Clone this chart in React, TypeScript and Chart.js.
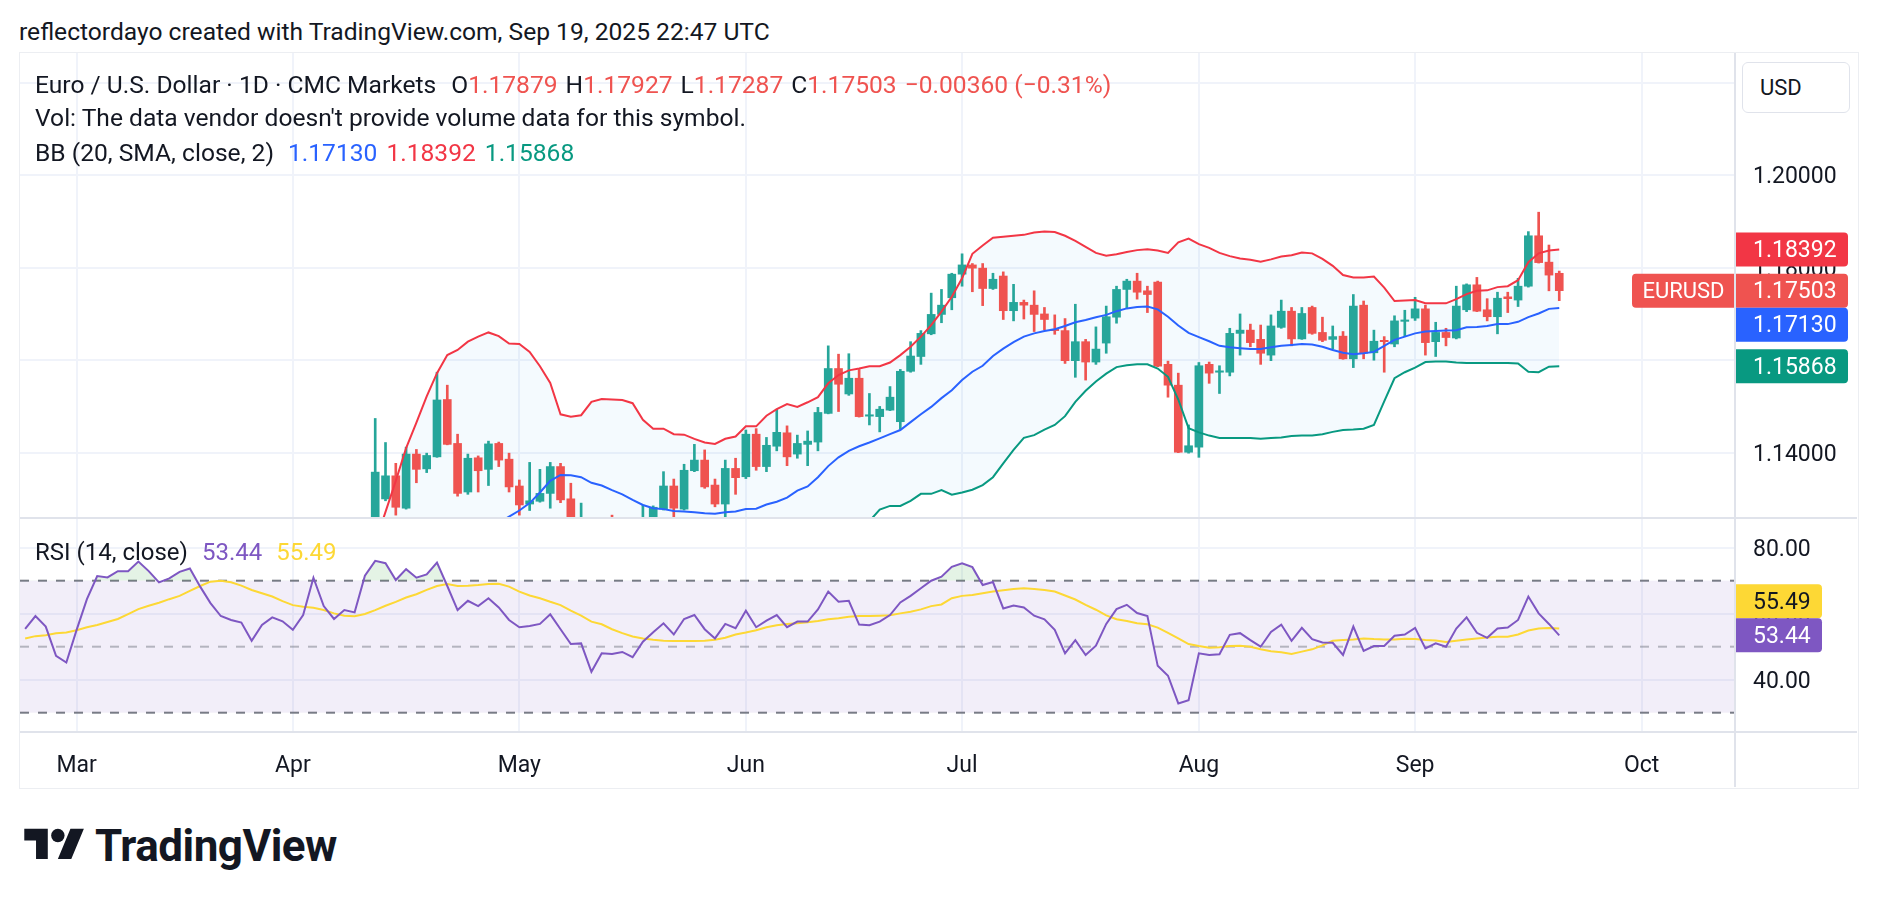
import React, { useEffect, useRef } from 'react';
import { Chart, registerables } from 'chart.js';

Chart.register(...registerables);

const FONT = 'Roboto, "Noto Sans", "DejaVu Sans", sans-serif';
const TEXT = '#131722';
const GRID = '#f0f3fa';
const SEP = '#e0e3eb';
const UP = '#26a69a';
const DOWN = '#ef5350';

// ---------- time axis (trading days) ----------
const START_DATE = Date.UTC(2025, 1, 24);
const SLOT_COUNT = 167;
const MONTH_NAMES = ['Jan', 'Feb', 'Mar', 'Apr', 'May', 'Jun', 'Jul', 'Aug', 'Sep', 'Oct', 'Nov', 'Dec'];
function tradingDays(): Date[] {
  const out: Date[] = [];
  let t = START_DATE;
  while (out.length < SLOT_COUNT) {
    const d = new Date(t);
    const wd = d.getUTCDay();
    if (wd !== 0 && wd !== 6) out.push(d);
    t += 86400000;
  }
  return out;
}
const DATES = tradingDays();
const MONTH_TICKS = DATES.map((d, i) => (i > 0 && d.getUTCMonth() !== DATES[i - 1].getUTCMonth() ? i : -1)).filter((i) => i >= 0);

const X_MIN = -0.5;
const X_MAX = 166.07;
const PRICE_MIN = 1.12588;
const PRICE_MAX = 1.22642;
const PRICE_TICKS = [1.14, 1.16, 1.18, 1.2, 1.22];
const RSI_MIN = 24.15;
const RSI_MAX = 89.0;
const RSI_TICKS = [40, 60, 80];

// ---------- candles (first candle index = Apr 11) ----------
const CANDLE_START = 34;
const OPEN = [
  1.1222, 1.1300, 1.1350, 1.1280, 1.1397, 1.1365, 1.1391, 1.1515, 1.1420, 1.1315,
  1.1389, 1.1364, 1.1420, 1.1386, 1.1328, 1.1289, 1.1295, 1.1312, 1.1370, 1.1300,
  1.1090, 1.1185, 1.1175, 1.1240, 1.1170, 1.1230, 1.1240, 1.1245, 1.1278, 1.1328,
  1.1278, 1.1361, 1.1384, 1.1330, 1.1289, 1.1366, 1.1348, 1.1440, 1.1370, 1.1414,
  1.1443, 1.1397, 1.1418, 1.1423, 1.1485, 1.1582, 1.1527, 1.1561, 1.1479, 1.1478,
  1.1492, 1.1467, 1.1576, 1.1608, 1.1657, 1.1699, 1.1735, 1.1786, 1.1806, 1.1799,
  1.1755, 1.1782, 1.1707, 1.1725, 1.1719, 1.1700, 1.1667, 1.1664, 1.1599, 1.1640,
  1.1596, 1.1637, 1.1693, 1.1753, 1.1771, 1.1750, 1.1769, 1.1591, 1.1546, 1.1401,
  1.1412, 1.1591, 1.1574, 1.1574, 1.1658, 1.1665, 1.1645, 1.1611, 1.1671, 1.1706,
  1.1646, 1.1714, 1.1660, 1.1645, 1.1652, 1.1603, 1.1719, 1.1616, 1.1643, 1.1635,
  1.1684, 1.1691, 1.1711, 1.1640, 1.1660, 1.1648, 1.1709, 1.1763, 1.1709, 1.1694,
  1.1737, 1.1730, 1.1760, 1.1869, 1.1812, 1.17879,
];
const HIGH = [
  1.1474, 1.1422, 1.1377, 1.1412, 1.1407, 1.1399, 1.1574, 1.1546, 1.1440, 1.1397,
  1.1393, 1.1425, 1.1423, 1.1399, 1.1341, 1.1379, 1.1364, 1.1379, 1.1377, 1.1334,
  1.1291, 1.1230, 1.1200, 1.1265, 1.1240, 1.1250, 1.1287, 1.1285, 1.1359, 1.1343,
  1.1375, 1.1418, 1.1406, 1.1343, 1.1384, 1.1388, 1.1449, 1.1452, 1.1433, 1.1494,
  1.1458, 1.1438, 1.1447, 1.1498, 1.1631, 1.1613, 1.1614, 1.1580, 1.1528, 1.1500,
  1.1543, 1.1580, 1.1640, 1.1664, 1.1745, 1.1753, 1.1788, 1.1830, 1.1809, 1.1809,
  1.1788, 1.1791, 1.1764, 1.1730, 1.1750, 1.1714, 1.1698, 1.1690, 1.1721, 1.1645,
  1.1672, 1.1717, 1.1760, 1.1775, 1.1788, 1.1760, 1.1771, 1.1598, 1.1572, 1.1460,
  1.1595, 1.1596, 1.1588, 1.1669, 1.1700, 1.1678, 1.1676, 1.1698, 1.1730, 1.1714,
  1.1714, 1.1717, 1.1693, 1.1674, 1.1662, 1.1742, 1.1728, 1.1665, 1.1651, 1.1696,
  1.1708, 1.1736, 1.1719, 1.1682, 1.1669, 1.1760, 1.1765, 1.1779, 1.1733, 1.1747,
  1.1747, 1.1777, 1.1878, 1.1920, 1.1849, 1.17927,
];
const LOW = [
  1.1200, 1.1296, 1.1265, 1.1278, 1.1335, 1.1357, 1.1390, 1.1417, 1.1306, 1.1310,
  1.1315, 1.1329, 1.1370, 1.1315, 1.1265, 1.1275, 1.1293, 1.1280, 1.1292, 1.1065,
  1.1070, 1.1160, 1.1130, 1.1150, 1.1150, 1.1200, 1.1225, 1.1230, 1.1276, 1.1255,
  1.1276, 1.1359, 1.1323, 1.1283, 1.1260, 1.1310, 1.1344, 1.1362, 1.1359, 1.1404,
  1.1372, 1.1388, 1.1372, 1.1404, 1.1484, 1.1489, 1.1524, 1.1477, 1.1460, 1.1445,
  1.1491, 1.1451, 1.1574, 1.1591, 1.1655, 1.1681, 1.1709, 1.1760, 1.1748, 1.1718,
  1.1753, 1.1688, 1.1685, 1.1689, 1.1662, 1.1666, 1.1656, 1.1593, 1.1563, 1.1557,
  1.1591, 1.1615, 1.1680, 1.1712, 1.1732, 1.1703, 1.1586, 1.1520, 1.1400, 1.1399,
  1.1390, 1.1550, 1.1528, 1.1566, 1.1611, 1.1629, 1.1591, 1.1599, 1.1669, 1.1631,
  1.1645, 1.1656, 1.1640, 1.1624, 1.1602, 1.1584, 1.1603, 1.1600, 1.1574, 1.1629,
  1.1652, 1.1686, 1.1611, 1.1608, 1.1631, 1.1646, 1.1705, 1.1705, 1.1685, 1.1657,
  1.1703, 1.1716, 1.1758, 1.1810, 1.1750, 1.17287,
];
const CLOSE = [
  1.1358, 1.1350, 1.1282, 1.1397, 1.1364, 1.1394, 1.1514, 1.1418, 1.1312, 1.1388,
  1.1361, 1.1419, 1.1384, 1.1326, 1.1287, 1.1296, 1.1312, 1.1370, 1.1298, 1.1090,
  1.1185, 1.1175, 1.1185, 1.1170, 1.1230, 1.1240, 1.1250, 1.1282, 1.1328, 1.1280,
  1.1362, 1.1384, 1.1326, 1.1289, 1.1366, 1.1346, 1.1440, 1.1370, 1.1416, 1.1444,
  1.1391, 1.1420, 1.1425, 1.1487, 1.1582, 1.1548, 1.1561, 1.1478, 1.1482, 1.1494,
  1.1520, 1.1576, 1.1609, 1.1658, 1.1699, 1.1719, 1.1786, 1.1806, 1.1799, 1.1755,
  1.1775, 1.1707, 1.1725, 1.1719, 1.1699, 1.1688, 1.1664, 1.1599, 1.1640, 1.1596,
  1.1624, 1.1694, 1.1753, 1.1771, 1.1747, 1.1742, 1.1587, 1.1546, 1.1401, 1.1415,
  1.1588, 1.1572, 1.1577, 1.1658, 1.1665, 1.1638, 1.1615, 1.1674, 1.1706, 1.1646,
  1.1701, 1.1658, 1.1643, 1.1651, 1.1603, 1.1717, 1.1615, 1.1641, 1.1640, 1.1685,
  1.1687, 1.1711, 1.1638, 1.1660, 1.1649, 1.1717, 1.1763, 1.1706, 1.1694, 1.1734,
  1.1733, 1.1760, 1.1869, 1.1811, 1.1784, 1.17503,
];

// ---------- Bollinger Bands (20, SMA, close, 2), first value index = 32 ----------
const BB_START = 32;
const BB_UPPER = [
  1.1030, 1.1120, 1.1205, 1.1272, 1.1339, 1.1410, 1.1465, 1.1522, 1.1572, 1.1611,
  1.1622, 1.1640, 1.1651, 1.1660, 1.1652, 1.1636, 1.1635, 1.1618, 1.1587, 1.1551,
  1.1483, 1.1478, 1.1481, 1.1510, 1.1516, 1.1515, 1.1514, 1.1507, 1.1471, 1.1452,
  1.1452, 1.1440, 1.1439, 1.1430, 1.1422, 1.1419, 1.1430, 1.1435, 1.1457, 1.1457,
  1.1480, 1.1494, 1.1505, 1.1499, 1.1509, 1.1520, 1.1550, 1.1568, 1.1578, 1.1582,
  1.1587, 1.1587, 1.1595, 1.1611, 1.1629, 1.1651, 1.1676, 1.1705, 1.1737, 1.1777,
  1.1830, 1.1848, 1.1865, 1.1867, 1.1869, 1.1871, 1.1876, 1.1878, 1.1877, 1.1869,
  1.1858, 1.1845, 1.1832, 1.1826, 1.1829, 1.1834, 1.1838, 1.1840, 1.1837, 1.1832,
  1.1855, 1.1863, 1.1851, 1.1843, 1.1832, 1.1825, 1.1820, 1.1817, 1.1813, 1.1818,
  1.1824, 1.1827, 1.1833, 1.1831, 1.1819, 1.1804, 1.1784, 1.1779, 1.1779, 1.1781,
  1.1757, 1.1728, 1.1729, 1.1730, 1.1723, 1.1723, 1.1723, 1.1732, 1.1743, 1.1750,
  1.1751, 1.1758, 1.1760, 1.1773, 1.1812, 1.1831, 1.1837, 1.18392,
];
const BB_MID = [
  1.0870, 1.0895, 1.0925, 1.0955, 1.0985, 1.1015, 1.1045, 1.1075, 1.1110, 1.1140,
  1.1165, 1.1190, 1.1210, 1.1230, 1.1248, 1.1262, 1.1275, 1.1291, 1.1314, 1.1339,
  1.1352, 1.1351, 1.1347, 1.1335, 1.1329, 1.1319, 1.1310, 1.1298, 1.1287, 1.1280,
  1.1278, 1.1274, 1.1273, 1.1271, 1.1269, 1.1268, 1.1271, 1.1273, 1.1278, 1.1279,
  1.1288, 1.1294, 1.1303, 1.1318, 1.1327, 1.1347, 1.1371, 1.1390, 1.1404, 1.1414,
  1.1422, 1.1431, 1.1440, 1.1449, 1.1466, 1.1483, 1.1499, 1.1518, 1.1535, 1.1557,
  1.1575, 1.1588, 1.1609, 1.1625, 1.1639, 1.1651, 1.1658, 1.1663, 1.1667, 1.1674,
  1.1682, 1.1687, 1.1693, 1.1698, 1.1706, 1.1712, 1.1715, 1.1716, 1.1710, 1.1694,
  1.1675, 1.1659, 1.1650, 1.1641, 1.1631, 1.1628, 1.1626, 1.1624, 1.1624, 1.1628,
  1.1631, 1.1633, 1.1635, 1.1634, 1.1629, 1.1622, 1.1616, 1.1613, 1.1615, 1.1618,
  1.1631, 1.1644, 1.1651, 1.1658, 1.1662, 1.1663, 1.1664, 1.1665, 1.1671, 1.1672,
  1.1674, 1.1678, 1.1678, 1.1683, 1.1693, 1.1701, 1.1711, 1.17130,
];
const BB_LOWER = [
  1.0710, 1.0670, 1.0645, 1.0638, 1.0631, 1.0620, 1.0625, 1.0628, 1.0648, 1.0669,
  1.0708, 1.0740, 1.0769, 1.0800, 1.0844, 1.0888, 1.0915, 1.0964, 1.1041, 1.1127,
  1.1221, 1.1224, 1.1213, 1.1160, 1.1142, 1.1123, 1.1106, 1.1089, 1.1103, 1.1108,
  1.1104, 1.1108, 1.1107, 1.1112, 1.1116, 1.1117, 1.1112, 1.1111, 1.1099, 1.1101,
  1.1096, 1.1094, 1.1101, 1.1137, 1.1145, 1.1174, 1.1192, 1.1212, 1.1230, 1.1246,
  1.1252, 1.1277, 1.1285, 1.1285, 1.1296, 1.1311, 1.1311, 1.1319, 1.1309, 1.1314,
  1.1320, 1.1330, 1.1347, 1.1377, 1.1406, 1.1432, 1.1438, 1.1450, 1.1460, 1.1479,
  1.1510, 1.1534, 1.1554, 1.1571, 1.1585, 1.1589, 1.1591, 1.1591, 1.1582, 1.1564,
  1.1515, 1.1453, 1.1444, 1.1437, 1.1432, 1.1432, 1.1432, 1.1432, 1.1430, 1.1432,
  1.1433, 1.1436, 1.1437, 1.1437, 1.1440, 1.1445, 1.1449, 1.1450, 1.1452, 1.1460,
  1.1511, 1.1561, 1.1574, 1.1584, 1.1596, 1.1597, 1.1597, 1.1595, 1.1594, 1.1594,
  1.1594, 1.1594, 1.1594, 1.1593, 1.1575, 1.1574, 1.1586, 1.15868,
];

// ---------- RSI (14, close) and its MA, index 0 = Feb 24 ----------
const RSI = [
  55.4, 59.3, 56.1, 47.2, 45.2, 55.1, 64.4, 71.4, 71.0, 72.9,
  72.9, 75.8, 72.9, 69.5, 70.7, 72.7, 73.7, 68.2, 63.2, 59.3,
  58.1, 57.3, 51.8, 56.6, 58.9, 57.7, 55.1, 59.6, 70.9, 62.3,
  58.4, 61.1, 60.4, 71.5, 76.0, 75.3, 70.2, 73.5, 70.9, 71.9,
  75.5, 68.4, 61.1, 63.9, 62.3, 64.7, 61.9, 58.1, 55.9, 56.3,
  56.9, 59.8, 55.3, 50.8, 51.0, 42.4, 48.0, 47.8, 48.4, 46.8,
  51.5, 54.4, 57.1, 53.7, 58.4, 59.6, 55.3, 52.5, 56.9, 55.6,
  60.9, 55.9, 57.9, 59.6, 55.9, 57.6, 57.6, 61.3, 66.7, 63.6,
  63.9, 56.7, 56.5, 57.6, 59.6, 63.4, 65.4, 67.7, 70.0, 71.2,
  74.2, 75.3, 74.1, 68.7, 69.6, 61.6, 62.5, 61.9, 59.4, 58.3,
  55.1, 48.0, 52.0, 47.5, 50.3, 56.9, 61.4, 62.7, 60.2, 59.3,
  44.2, 41.2, 32.8, 33.8, 48.0, 47.5, 47.7, 53.6, 54.1, 52.0,
  50.0, 54.5, 56.7, 51.8, 55.7, 52.3, 51.3, 51.2, 47.5, 56.1,
  48.7, 50.2, 50.2, 53.3, 53.7, 55.7, 49.5, 51.0, 50.0, 55.5,
  58.9, 54.2, 52.7, 55.5, 55.8, 58.1, 65.2, 60.1, 56.9, 53.44,
];
const RSI_MA = [
  52.5, 53.2, 53.5, 54.1, 54.3, 55.0, 55.9, 56.6, 57.5, 58.4,
  59.9, 61.4, 62.4, 63.3, 64.4, 65.4, 66.9, 68.4, 69.7, 70.0,
  69.5, 68.5, 67.2, 66.2, 65.2, 63.8, 62.6, 62.1, 61.8, 61.1,
  60.1, 59.4, 59.2, 59.9, 61.1, 62.4, 63.6, 64.9, 65.9, 67.2,
  68.4, 69.0, 68.4, 68.5, 68.7, 69.0, 69.1, 68.2, 66.7, 65.5,
  64.7, 63.6, 62.6, 60.9, 59.4, 57.6, 56.8, 55.3, 54.1, 53.1,
  52.5, 52.1, 51.8, 51.7, 51.7, 51.7, 51.8, 52.1, 52.7, 53.7,
  54.3, 55.0, 55.9, 56.5, 56.9, 57.1, 57.4, 57.8, 58.3, 58.6,
  59.1, 59.3, 59.3, 59.4, 59.5, 60.1, 60.6, 61.3, 62.3, 62.8,
  64.7, 65.4, 65.7, 66.2, 66.7, 67.1, 67.5, 67.7, 67.5, 67.2,
  66.7, 65.5, 64.3, 62.7, 61.2, 59.5, 58.3, 57.8, 57.1, 56.8,
  55.8, 54.2, 52.5, 50.8, 50.2, 49.7, 49.8, 50.2, 50.3, 50.0,
  49.2, 48.6, 48.3, 47.8, 48.5, 49.2, 50.4, 51.8, 52.0, 52.2,
  52.5, 52.3, 52.2, 52.2, 52.4, 52.3, 52.0, 51.9, 51.4, 51.8,
  52.2, 52.5, 52.8, 53.0, 53.0, 53.7, 54.9, 55.5, 55.7, 55.49,
];

const CANDLE_COLORS = OPEN.map((o, k) => (CLOSE[k] >= o ? UP : DOWN));

type Tag = { v: number; bg: string; fg: string; primary?: boolean };

function layoutTags(tags: Tag[], scale: any, h: number) {
  const items = tags.map((t) => ({ ...t, c: scale.getPixelForValue(t.v) }));
  items.sort((a, b) => a.c - b.c);
  const p = items.findIndex((t) => t.primary);
  for (let k = p - 1; k >= 0; k--) items[k].c = Math.min(items[k].c, items[k + 1].c - h);
  for (let k = p + 1; k < items.length; k++) items[k].c = Math.max(items[k].c, items[k - 1].c + h);
  return items;
}

function drawTag(ctx: CanvasRenderingContext2D, x: number, cy: number, w: number, h: number, radii: number[], bg: string, fg: string, text: string, textX: number, align: CanvasTextAlign) {
  ctx.beginPath();
  ctx.fillStyle = bg;
  (ctx as any).roundRect(x, cy - h / 2, w, h, radii);
  ctx.fill();
  ctx.fillStyle = fg;
  ctx.textAlign = align;
  ctx.textBaseline = 'middle';
  ctx.fillText(text, textX, cy + 1.5);
}

const TAG_H = 34;

const priceTagsPlugin = {
  id: 'priceTags',
  afterDraw(chart: any) {
    const { ctx, chartArea: a, scales } = chart;
    const last = CLOSE.length - 1;
    const items = layoutTags(
      [
        { v: BB_UPPER[BB_UPPER.length - 1], bg: '#f23645', fg: '#ffffff' },
        { v: CLOSE[last], bg: '#ef5350', fg: '#ffffff', primary: true },
        { v: BB_MID[BB_MID.length - 1], bg: '#2962ff', fg: '#ffffff' },
        { v: BB_LOWER[BB_LOWER.length - 1], bg: '#089981', fg: '#ffffff' },
      ],
      scales.y,
      TAG_H
    );
    ctx.save();
    ctx.font = `23px ${FONT}`;
    for (const it of items) {
      drawTag(ctx, a.right + 1, it.c, 112, TAG_H, [0, 4, 4, 0], it.bg, it.fg, it.v.toFixed(5), a.right + 18, 'left');
      if (it.primary) {
        ctx.font = `22px ${FONT}`;
        drawTag(ctx, a.right - 103, it.c, 103, TAG_H, [4, 0, 0, 4], it.bg, it.fg, 'EURUSD', a.right - 51.5, 'center');
        ctx.font = `23px ${FONT}`;
      }
    }
    ctx.restore();
  },
};

const rsiPlugin = {
  id: 'rsiDecor',
  beforeDatasetsDraw(chart: any) {
    const { ctx, chartArea: a, scales } = chart;
    const y = scales.y;
    const y70 = y.getPixelForValue(70);
    const y30 = y.getPixelForValue(30);
    const y50 = y.getPixelForValue(50);
    ctx.save();
    ctx.fillStyle = 'rgba(126, 87, 194, 0.1)';
    ctx.fillRect(a.left, y70, a.right - a.left, y30 - y70);
    ctx.lineWidth = 2;
    ctx.setLineDash([9, 9]);
    const lines: [number, string][] = [
      [y70, '#787b86'],
      [y50, 'rgba(120, 123, 134, 0.5)'],
      [y30, '#787b86'],
    ];
    for (const [py, col] of lines) {
      ctx.strokeStyle = col;
      ctx.beginPath();
      ctx.moveTo(a.left, py);
      ctx.lineTo(a.right, py);
      ctx.stroke();
    }
    ctx.restore();
  },
  afterDraw(chart: any) {
    const { ctx, chartArea: a, scales } = chart;
    const items = layoutTags(
      [
        { v: RSI_MA[RSI_MA.length - 1], bg: '#fdd835', fg: TEXT },
        { v: RSI[RSI.length - 1], bg: '#7e57c2', fg: '#ffffff', primary: true },
      ],
      scales.y,
      TAG_H
    );
    ctx.save();
    ctx.font = `23px ${FONT}`;
    for (const it of items) {
      drawTag(ctx, a.right + 1, it.c, 86, TAG_H, [0, 4, 4, 0], it.bg, it.fg, it.v.toFixed(2), a.right + 18, 'left');
    }
    ctx.restore();
  },
};

function monthTicks(axis: any) {
  axis.ticks = MONTH_TICKS.map((i) => ({ value: i }));
}

function priceConfig(): any {
  const wick = OPEN.map((_, k) => ({ x: CANDLE_START + k, y: [LOW[k], HIGH[k]] }));
  const body = OPEN.map((o, k) => ({ x: CANDLE_START + k, y: [o, CLOSE[k]] }));
  const line = (arr: number[]) => arr.map((v, k) => ({ x: BB_START + k, y: v }));
  return {
    type: 'line',
    data: {
      datasets: [
        { type: 'bar', data: wick, backgroundColor: CANDLE_COLORS, barThickness: 2, grouped: false, borderWidth: 0, order: 5 },
        { type: 'bar', data: body, backgroundColor: CANDLE_COLORS, barThickness: 8, minBarLength: 1, grouped: false, borderWidth: 0, order: 4 },
        { type: 'line', data: line(BB_UPPER), borderColor: '#f23645', borderWidth: 2, pointRadius: 0, tension: 0, fill: 4, backgroundColor: 'rgba(33, 150, 243, 0.05)', order: 1 },
        { type: 'line', data: line(BB_MID), borderColor: '#2962ff', borderWidth: 2, pointRadius: 0, tension: 0, fill: false, order: 1 },
        { type: 'line', data: line(BB_LOWER), borderColor: '#089981', borderWidth: 2, pointRadius: 0, tension: 0, fill: false, order: 1 },
      ],
    },
    options: {
      responsive: false,
      animation: false,
      events: [],
      layout: { padding: 0, autoPadding: false },
      plugins: { legend: { display: false }, tooltip: { enabled: false }, filler: { propagate: false, drawTime: 'beforeDatasetsDraw' } },
      scales: {
        x: {
          type: 'linear', min: X_MIN, max: X_MAX, offset: false,
          grid: { color: GRID, lineWidth: 2, drawTicks: false, offset: false },
          border: { display: false },
          ticks: { display: false },
          afterBuildTicks: monthTicks,
          afterFit: (s: any) => { s.height = 0; s.paddingLeft = 0; s.paddingRight = 0; },
        },
        y: {
          type: 'linear', position: 'right', min: PRICE_MIN, max: PRICE_MAX,
          grid: { color: GRID, lineWidth: 2, drawTicks: false },
          border: { display: false },
          afterBuildTicks: (axis: any) => { axis.ticks = PRICE_TICKS.map((v) => ({ value: v })); },
          ticks: {
            padding: 18, labelOffset: 2.5, color: TEXT, font: { family: FONT, size: 23 },
            callback: (v: number) => (v > 1.21 ? '' : v.toFixed(5)),
          },
          afterFit: (s: any) => { s.width = 122; s.paddingTop = 0; s.paddingBottom = 0; },
        },
      },
    },
    plugins: [priceTagsPlugin],
  };
}

function rsiConfig(): any {
  return {
    type: 'line',
    data: {
      datasets: [
        {
          data: RSI.map((v, i) => ({ x: i, y: v })), borderColor: '#7e57c2', borderWidth: 2, pointRadius: 0, tension: 0,
          fill: { target: { value: 70 }, above: 'rgba(76, 175, 80, 0.15)', below: 'rgba(0, 0, 0, 0)' }, order: 1,
        },
        { data: RSI_MA.map((v, i) => ({ x: i, y: v })), borderColor: '#fdd835', borderWidth: 2, pointRadius: 0, tension: 0, fill: false, order: 2 },
      ],
    },
    options: {
      responsive: false,
      animation: false,
      events: [],
      layout: { padding: 0, autoPadding: false },
      plugins: { legend: { display: false }, tooltip: { enabled: false } },
      scales: {
        x: {
          type: 'linear', min: X_MIN, max: X_MAX, offset: false,
          grid: { color: GRID, lineWidth: 2, drawTicks: false, offset: false },
          border: { display: false },
          afterBuildTicks: monthTicks,
          ticks: {
            padding: 20, color: TEXT, font: { family: FONT, size: 23 }, maxRotation: 0, autoSkip: false,
            callback: (v: number) => MONTH_NAMES[DATES[Math.round(v)].getUTCMonth()],
          },
          afterFit: (s: any) => { s.height = 56; s.paddingLeft = 0; s.paddingRight = 0; },
        },
        y: {
          type: 'linear', position: 'right', min: RSI_MIN, max: RSI_MAX,
          grid: { color: GRID, lineWidth: 2, drawTicks: false },
          border: { display: false },
          afterBuildTicks: (axis: any) => { axis.ticks = RSI_TICKS.map((v) => ({ value: v })); },
          ticks: { padding: 18, labelOffset: 2.5, color: TEXT, font: { family: FONT, size: 23 }, callback: (v: number) => v.toFixed(2) },
          afterFit: (s: any) => { s.width = 122; s.paddingTop = 0; s.paddingBottom = 0; },
        },
      },
    },
    plugins: [rsiPlugin],
  };
}

const abs = (style: React.CSSProperties): React.CSSProperties => ({ position: 'absolute', ...style });

export default function App() {
  const priceRef = useRef<HTMLCanvasElement>(null);
  const rsiRef = useRef<HTMLCanvasElement>(null);

  useEffect(() => {
    const c1 = new Chart(priceRef.current as HTMLCanvasElement, priceConfig());
    const c2 = new Chart(rsiRef.current as HTMLCanvasElement, rsiConfig());
    return () => {
      c1.destroy();
      c2.destroy();
    };
  }, []);

  const red = '#ef5350';
  const lineStyle: React.CSSProperties = { fontSize: 24.6, lineHeight: '34px', whiteSpace: 'nowrap' };

  return (
    <div style={abs({ left: 0, top: 0, width: 1878, height: 908, background: '#ffffff', overflow: 'hidden', fontFamily: FONT, color: TEXT })}>
      <div style={abs({ left: 19, top: 15, ...lineStyle })}>reflectordayo created with TradingView.com, Sep 19, 2025 22:47 UTC</div>

      {/* frame */}
      <div style={abs({ left: 19, top: 52, width: 1838, height: 735, border: '1px solid #eceef2' })} />

      <canvas ref={priceRef} width={1837} height={465} style={abs({ left: 20, top: 53, width: 1837, height: 465 })} />
      <canvas ref={rsiRef} width={1837} height={270} style={abs({ left: 20, top: 518, width: 1837, height: 270 })} />

      {/* separators */}
      <div style={abs({ left: 20, top: 517, width: 1837, height: 2, background: SEP })} />
      <div style={abs({ left: 20, top: 731, width: 1837, height: 2, background: SEP })} />
      <div style={abs({ left: 1734, top: 53, width: 2, height: 734, background: SEP })} />

      {/* legends */}
      <div style={abs({ left: 35, top: 68, ...lineStyle })}>
        <span>Euro / U.S. Dollar · 1D · CMC Markets</span>
        <span style={{ marginLeft: 15 }}>O<span style={{ color: red }}>1.17879</span></span>
        <span style={{ marginLeft: 8 }}>H<span style={{ color: red }}>1.17927</span></span>
        <span style={{ marginLeft: 8 }}>L<span style={{ color: red }}>1.17287</span></span>
        <span style={{ marginLeft: 8 }}>C<span style={{ color: red }}>1.17503</span></span>
        <span style={{ marginLeft: 8, color: red }}>−0.00360 (−0.31%)</span>
      </div>
      <div style={abs({ left: 35, top: 101, ...lineStyle })}>Vol: The data vendor doesn't provide volume data for this symbol.</div>
      <div style={abs({ left: 35, top: 136, ...lineStyle })}>
        <span>BB (20, SMA, close, 2)</span>
        <span style={{ marginLeft: 14, color: '#2962ff' }}>1.17130</span>
        <span style={{ marginLeft: 9, color: '#f23645' }}>1.18392</span>
        <span style={{ marginLeft: 9, color: '#089981' }}>1.15868</span>
      </div>
      <div style={abs({ left: 35, top: 535, fontSize: 24, lineHeight: '34px', whiteSpace: 'nowrap' })}>
        <span>RSI (14, close)</span>
        <span style={{ marginLeft: 14, color: '#7e57c2' }}>53.44</span>
        <span style={{ marginLeft: 14, color: '#fdd835' }}>55.49</span>
      </div>

      {/* currency button */}
      <div style={abs({ left: 1742, top: 62, width: 108, height: 51, border: '1px solid #e0e3eb', borderRadius: 6, background: '#ffffff', fontSize: 22, lineHeight: '49px', paddingLeft: 17, boxSizing: 'border-box' })}>USD</div>

      {/* logo */}
      <svg width={61} height={47} viewBox="0 0 36 28" style={abs({ left: 24, top: 822 })}>
        <path d="M14 22H7V11H0V4h14v18zM28 22h-8l7.5-18h8L28 22z" fill={TEXT} />
        <circle cx="20" cy="8" r="4" fill={TEXT} />
      </svg>
      <div style={abs({ left: 95, top: 820, fontSize: 44, fontWeight: 700, lineHeight: '52px', letterSpacing: -0.5, whiteSpace: 'nowrap' })}>TradingView</div>
    </div>
  );
}
